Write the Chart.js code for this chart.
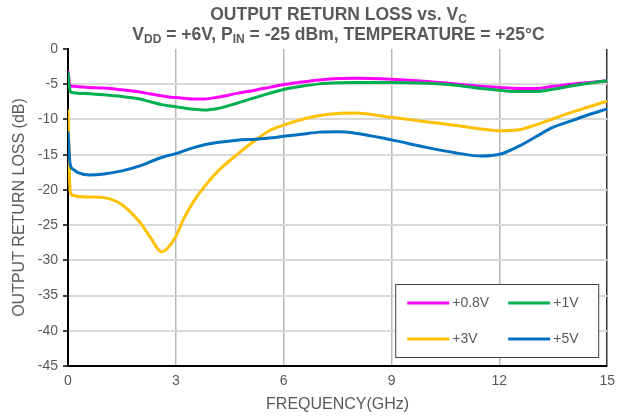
<!DOCTYPE html>
<html>
<head>
<meta charset="utf-8">
<script src="https://cdn.jsdelivr.net/npm/chart.js@4/dist/chart.umd.min.js"></script>
<style>
    html, body { margin: 0; padding: 0; background: #fff; }
    #wrap { position: relative; width: 622px; height: 417px; }
    #titulo {
        position: absolute; left: 68px; top: 4px; width: 541px;
        text-align: center; color: #595959;
        font-family: "Liberation Sans", Arial, sans-serif;
        font-weight: bold; font-size: 17.5px; line-height: 20px;
    }
    #titulo sub { font-size: 12px; vertical-align: -3px; line-height: 0; }
</style>
</head>
<body>
<div id="wrap">
    <canvas id="g_return_loss" width="622" height="417"></canvas>
    <div id="titulo">
        OUTPUT RETURN LOSS vs. V<sub>C</sub><br>
        V<sub>DD</sub> = +6V, P<sub>IN</sub> = -25 dBm, TEMPERATURE = +25°C
    </div>
</div>
<script>
// frecuencia (GHz), comun a las cuatro curvas
var frecuencia = [0, 0.06, 0.15, 0.3, 0.6, 1.0, 1.5, 2.0, 2.3, 2.6, 2.8, 3.0, 3.2, 3.5, 3.8, 4.2, 4.7, 5.2, 5.6, 6.0,
                  6.5, 7.0, 7.5, 8.0, 9.0, 10.0, 10.8, 11.5, 12.0, 12.5, 13.0, 13.5, 14.0, 14.5, 15.0];

var etiquetas = ['+0.8V', '+1V', '+3V', '+5V'];

var rl_0v8 = [-3.1, -5.25, -5.3, -5.35, -5.45, -5.55, -5.8, -6.1, -6.4, -6.65, -6.8, -6.9, -7.0, -7.1, -7.1, -6.8, -6.3, -5.85, -5.45, -5.05,
              -4.7, -4.4, -4.2, -4.15, -4.3, -4.6, -4.95, -5.3, -5.45, -5.6, -5.6, -5.3, -5.0, -4.75, -4.5];
var rl_1v   = [-3.3, -6.0, -6.2, -6.3, -6.35, -6.5, -6.75, -7.1, -7.5, -7.9, -8.05, -8.2, -8.35, -8.55, -8.65, -8.4, -7.7, -6.9, -6.3, -5.75,
              -5.3, -4.95, -4.8, -4.75, -4.75, -4.85, -5.15, -5.6, -5.85, -6.05, -6.05, -5.7, -5.25, -4.85, -4.5];
var rl_3v   = [-8.6, -20.3, -20.8, -20.95, -21.0, -21.1, -22.1, -24.6, -26.8, -28.8, -28.1, -26.6, -24.3, -21.6, -19.5, -17.2, -15.0, -13.0, -11.6, -10.8,
              -10.0, -9.45, -9.15, -9.1, -9.7, -10.35, -10.85, -11.35, -11.6, -11.5, -10.8, -9.9, -9.0, -8.2, -7.4];
var rl_5v   = [-11.7, -16.4, -17.1, -17.6, -17.9, -17.75, -17.3, -16.6, -16.0, -15.4, -15.1, -14.85, -14.5, -14.0, -13.6, -13.25, -12.95, -12.8, -12.65, -12.4,
              -12.1, -11.8, -11.75, -11.95, -12.9, -14.0, -14.75, -15.2, -14.95, -13.9, -12.5, -11.1, -10.2, -9.3, -8.5];

var ticks_x = [0, 3, 6, 9, 12, 15];
var ticks_y = [0, -5, -10, -15, -20, -25, -30, -35, -40, -45];

var colores = ['#ff00ff', '#00b050', '#ffc000', '#0070c0'];
var fuente = '"Liberation Sans", Arial, sans-serif';

function puntos(valores) {
    var datos = [];
    for (let i = 0; i < frecuencia.length; i++) {
        datos.push({ x: frecuencia[i], y: valores[i] });
    }
    return datos;
}

// leyenda dibujada dentro del area del grafico, abajo a la derecha
var leyenda_interna = {
    id: 'leyenda_interna',
    afterDraw: function (chart) {
        var ctx = chart.ctx;
        var area = chart.chartArea;
        var ancho = 203, alto = 73;
        var x0 = area.right - 9 - ancho;
        var y0 = area.bottom - 9 - alto;
        ctx.save();
        ctx.fillStyle = '#fff';
        ctx.fillRect(x0, y0, ancho, alto);
        ctx.strokeStyle = '#404040';
        ctx.lineWidth = 1;
        ctx.strokeRect(x0 + 0.5, y0 + 0.5, ancho, alto);
        ctx.font = '14px ' + fuente;
        ctx.textBaseline = 'middle';
        ctx.fillStyle = '#595959';
        var ds = chart.data.datasets;
        for (let i = 0; i < ds.length; i++) {
            var col = i % 2, fila = Math.floor(i / 2);
            var lx = x0 + 12 + col * 101;
            var ly = y0 + 19 + fila * 36;
            ctx.strokeStyle = ds[i].borderColor;
            ctx.lineWidth = 3;
            ctx.beginPath();
            ctx.moveTo(lx, ly);
            ctx.lineTo(lx + 42, ly);
            ctx.stroke();
            ctx.fillText(ds[i].label, lx + 45, ly);
        }
        ctx.restore();
    }
};

function grafica_return_loss() {
    var series = [rl_0v8, rl_1v, rl_3v, rl_5v];
    var orden = [4, 3, 2, 1];
    var datasets = [];
    for (let i = 0; i < series.length; i++) {
        datasets.push({
            "label": etiquetas[i],
            "data": puntos(series[i]),
            "borderColor": colores[i],
            "backgroundColor": colores[i],
            "borderWidth": 3,
            "pointRadius": 0,
            "fill": false,
            "cubicInterpolationMode": 'monotone',
            "order": orden[i]
        });
    }

    new Chart(document.getElementById("g_return_loss"), {
        "type": "line",
        "data": { "datasets": datasets },
        "options": {
            "responsive": false,
            "animation": false,
            "layout": { "padding": { "top": 49, "right": 13, "left": 0, "bottom": 0 } },
            "plugins": {
                "legend": { "display": false },
                "tooltip": { "enabled": false },
                "title": { "display": false }
            },
            "scales": {
                "x": {
                    "type": "linear",
                    "min": 0,
                    "max": 15,
                    "afterBuildTicks": function (s) { s.ticks = ticks_x.map(function (v) { return { value: v }; }); },
                    "afterFit": function (s) { s.height = 51; },
                    "border": { "color": '#000', "width": 2 },
                    "grid": {
                        "drawTicks": false,
                        "lineWidth": 1.5,
                        "color": function (c) {
                            if (!c.tick || c.tick.value === 0) return 'rgba(0,0,0,0)';
                            if (c.tick.value === 15) return '#333';
                            return '#b8b8b8';
                        }
                    },
                    "ticks": { "color": '#595959', "font": { "family": fuente, "size": 14 }, "padding": 7, "maxRotation": 0 },
                    "title": { "display": true, "text": 'FREQUENCY(GHz)', "color": '#595959',
                               "font": { "family": fuente, "size": 16 }, "padding": { "top": 0, "bottom": 3 } }
                },
                "y": {
                    "type": "linear",
                    "min": -45,
                    "max": 0,
                    "afterBuildTicks": function (s) { s.ticks = ticks_y.map(function (v) { return { value: v }; }); },
                    "afterFit": function (s) { s.width = 68; },
                    "border": { "color": '#000', "width": 2 },
                    "grid": {
                        "lineWidth": 2,
                        "tickLength": 5,
                        "tickColor": '#000',
                        "tickWidth": 1.5,
                        "color": function (c) {
                            if (!c.tick || c.tick.value === 0 || c.tick.value === -45) return 'rgba(0,0,0,0)';
                            return '#d9d9d9';
                        }
                    },
                    "ticks": { "color": '#595959', "font": { "family": fuente, "size": 14 }, "padding": 5 },
                    "title": { "display": true, "text": 'OUTPUT RETURN LOSS (dB)', "color": '#595959',
                               "font": { "family": fuente, "size": 16 }, "padding": { "top": 10, "bottom": 0 } }
                }
            }
        },
        "plugins": [leyenda_interna]
    });
}

grafica_return_loss();
</script>
</body>
</html>
